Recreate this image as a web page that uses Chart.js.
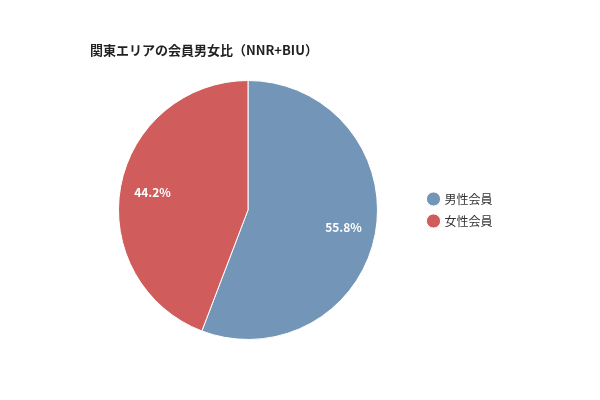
<!DOCTYPE html>
<html>
<head>
<meta charset="utf-8">
<script src="https://cdn.jsdelivr.net/npm/chart.js@4/dist/chart.umd.min.js"></script>
<style>
  html, body { margin: 0; padding: 0; background: #fff; }
  #wrap { width: 600px; height: 400px; }
</style>
</head>
<body>
<div id="wrap"><canvas id="c" width="600" height="400"></canvas></div>
<script>
// Data
const labels = ["男性会員", "女性会員"];
const shares = [55.8, 44.2];
const colors = ["#7396b8", "#d05c5c"];
const title = "関東エリアの会員男女比（NNR+BIU）";

const FONT = "'Noto Sans CJK JP', 'Noto Sans', sans-serif";

// title drawn at the top-left, independent of the chart area
const titleText = {
  id: "titleText",
  afterDraw(chart) {
    const ctx = chart.ctx;
    ctx.save();
    ctx.font = "bold 13px " + FONT;
    ctx.fillStyle = "#222";
    ctx.textAlign = "left";
    ctx.textBaseline = "middle";
    ctx.fillText(title, 90, 50);
    ctx.restore();
  },
};

// percent labels at 3/4 radius
const pctLabels = {
  id: "pctLabels",
  afterDatasetsDraw(chart) {
    const ctx = chart.ctx;
    const meta = chart.getDatasetMeta(0);
    ctx.save();
    ctx.font = "bold 12px " + FONT;
    ctx.fillStyle = "#fff";
    ctx.textAlign = "center";
    ctx.textBaseline = "middle";
    meta.data.forEach((arc, i) => {
      const a = (arc.startAngle + arc.endAngle) / 2;
      const r = arc.outerRadius * 0.75;
      ctx.fillText(shares[i].toFixed(1) + "%", arc.x + Math.cos(a) * r, arc.y + Math.sin(a) * r);
    });
    ctx.restore();
  },
};

new Chart(document.getElementById("c"), {
  type: "pie",
  data: {
    labels,
    datasets: [{
      data: shares,
      backgroundColor: colors,
      borderColor: "#fff",
      borderWidth: 1,
    }],
  },
  options: {
    responsive: false,
    animation: false,
    layout: { padding: { top: 80, bottom: 60, left: 77.5, right: 97.5 } },
    plugins: {
      legend: {
        position: "right",
        labels: {
          usePointStyle: true,
          pointStyle: "circle",
          boxWidth: 10,
          boxHeight: 10,
          padding: 10,
          color: "#333",
          font: { family: FONT, size: 12 },
        },
      },
      tooltip: { enabled: false },
    },
  },
  plugins: [pctLabels, titleText],
});
</script>
</body>
</html>
